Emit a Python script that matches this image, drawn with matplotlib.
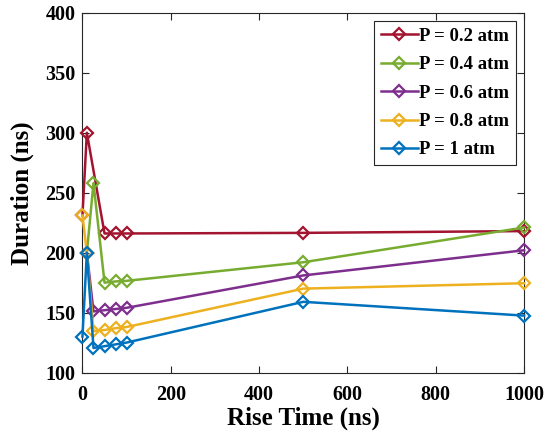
import matplotlib
matplotlib.use('Agg')
import matplotlib.pyplot as plt

# rise time (ns) for each pressure series
x_02 = [0, 10, 50, 75, 100, 500, 1000]
y_02 = [231, 300, 216, 216, 216, 216.5, 218]

x_04 = [10, 25, 50, 75, 100, 500, 1000]
y_04 = [200, 258, 175, 176, 176.5, 192, 221]

x_06 = [10, 25, 50, 75, 100, 500, 1000]
y_06 = [200, 151, 152, 153, 154, 181, 202]

x_08 = [0, 10, 25, 50, 75, 100, 500, 1000]
y_08 = [231, 200, 134.5, 135.5, 137, 138, 170, 174.5]

x_1 = [0, 10, 25, 50, 75, 100, 500, 1000]
y_1 = [130, 200, 120.5, 122, 123.5, 125, 159, 147.5]

labels = ['P = 0.2 atm', 'P = 0.4 atm', 'P = 0.6 atm', 'P = 0.8 atm', 'P = 1 atm']
colors = ['#A2142F', '#77AC30', '#7E2F8E', '#EDB120', '#0072BD']


def main():
    plt.rcParams['font.family'] = 'Liberation Serif'
    plt.rcParams['font.weight'] = 'bold'

    fig = plt.figure(figsize=(5.46, 4.43), dpi=100)
    ax = fig.add_axes([0.151, 0.159, 0.809, 0.812])

    series = [(x_02, y_02), (x_04, y_04), (x_06, y_06), (x_08, y_08), (x_1, y_1)]
    for (xs, ys), lab, c in zip(series, labels, colors):
        ax.plot(xs, ys, color=c, lw=1.8, marker='D', markersize=6,
                markerfacecolor='none', markeredgewidth=1.6, label=lab,
                clip_on=False, zorder=3)

    ax.set_xlim(0, 1000)
    ax.set_ylim(100, 400)
    ax.set_xticks([0, 200, 400, 600, 800, 1000])
    ax.set_yticks([100, 150, 200, 250, 300, 350, 400])
    ax.tick_params(direction='in', length=5, width=0.8, top=True, right=True,
                   labelsize=14.5, colors='#262626', labelcolor='black', pad=5)
    ax.tick_params(axis='x', pad=9)
    for s in ax.spines.values():
        s.set_color('#262626')
        s.set_linewidth(0.8)

    ax.set_xlabel('Rise Time (ns)', fontsize=18, fontweight='bold', labelpad=1)
    ax.set_ylabel('Duration (ns)', fontsize=18, fontweight='bold', labelpad=8)

    leg = ax.legend(loc='upper right', fontsize=13.5, handlelength=2.0,
                    borderaxespad=0.45, borderpad=0.35, fancybox=False,
                    framealpha=1, edgecolor='#262626', labelspacing=0.6,
                    handletextpad=0.05)
    leg.get_frame().set_linewidth(0.8)

    fig.savefig('out.png', dpi=100)


if __name__ == "__main__":
    main()
